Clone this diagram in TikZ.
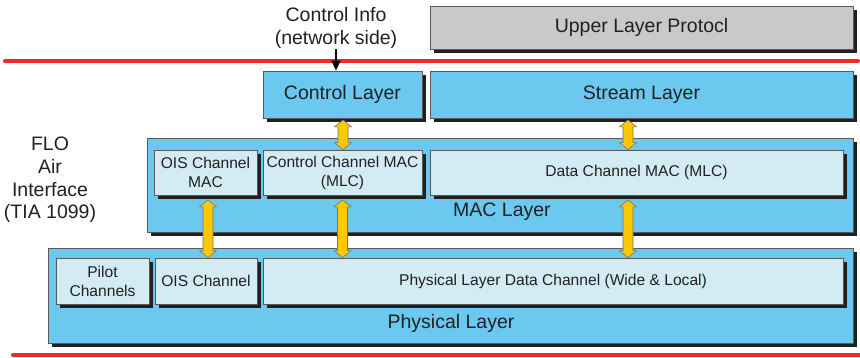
\documentclass[tikz,border=0pt]{standalone}
\usepackage{fontspec}
\setmainfont{Liberation Sans}
\usetikzlibrary{calc,arrows.meta}
\definecolor{skyb}{HTML}{6BC9F0}
\definecolor{paleb}{HTML}{D3ECF4}
\definecolor{greyb}{HTML}{C8C9CB}
\definecolor{redl}{HTML}{EE2A2E}
\definecolor{txt}{HTML}{231F20}
\definecolor{yel}{HTML}{FCC900}
\definecolor{shadowc}{HTML}{231F20}
\newcommand{\bigf}{\fontsize{19.5}{23.5}\selectfont}
\newcommand{\smallf}{\fontsize{15.6}{19}\selectfont}
\tikzset{
  boxbase/.style={draw=black!65, line width=0.8pt, inner sep=0pt, text=txt},
  bigbox/.style={boxbase, font=\bigf},
  smallbox/.style={boxbase, font=\smallf, align=center, fill=paleb},
  lbl/.style={text=txt, font=\bigf, align=center, inner sep=0pt},
  redline/.style={draw=redl, line width=4pt, line cap=round},
  yarr/.style={fill=yel, draw=black!55, line width=0.6pt, line join=miter},
  shad/.style={fill=shadowc},
}
% #1 name, #2 style, #3 cx, #4 cy, #5 w, #6 h, #7 text
\newcommand{\shbox}[7]{%
  \fill[shad] ({#3-#5/2+4},{#4-#6/2+4}) rectangle ({#3+#5/2+4},{#4+#6/2+4});
  \node[#2, minimum width=#5pt, minimum height=#6pt] (#1) at (#3,#4) {#7};}
\newcommand{\yarrow}[2]{%
  \path[yarr] let \p1=(#1), \p2=(#2) in
    (\x1,\y1) -- (\x1+8.5pt,\y1-7pt) -- (\x1+5pt,\y1-7pt) -- (\x1+5pt,\y2+7pt)
    -- (\x1+8.5pt,\y2+7pt) -- (\x1,\y2) -- (\x1-8.5pt,\y2+7pt) -- (\x1-5pt,\y2+7pt)
    -- (\x1-5pt,\y1-7pt) -- (\x1-8.5pt,\y1-7pt) -- cycle;}
\begin{document}
\begin{tikzpicture}[x=1pt,y=-1pt]
\useasboundingbox (0,0) rectangle (860,357);
% red lines
\coordinate (r1a) at (5,61); \coordinate (r1b) at (858,61);
\coordinate (r2a) at (13,355); \coordinate (r2b) at (862,355);
\draw[redline] (r1a) -- (r1b);
\draw[redline] (r2a) -- (r2b);
% upper
\shbox{upl}{bigbox, fill=greyb}{641.5}{27.5}{423}{43}{Upper Layer Protocl}
\node[lbl] (ci) at (336,28) {Control Info\\(network side)};
% control / stream
\shbox{ctl}{bigbox, fill=skyb}{342.5}{94.5}{159}{47}{Control Layer}
\shbox{str}{bigbox, fill=skyb}{641.5}{94.5}{423}{47}{Stream Layer}
% MAC
\shbox{mac}{bigbox, fill=skyb}{500}{185}{706}{94}{}
\shbox{oismac}{smallbox}{205.5}{172.5}{103}{45}{OIS Channel\\MAC}
\shbox{ccmac}{smallbox}{342.5}{172.5}{159}{45}{Control Channel MAC\\(MLC)}
\shbox{dcmac}{smallbox}{636.5}{172.5}{413}{45}{Data Channel MAC (MLC)}
\node[lbl] (macl) at (502,212) {MAC Layer};
% Physical
\shbox{phy}{bigbox, fill=skyb}{450.5}{295.5}{805}{95}{}
\shbox{pilot}{smallbox}{102.5}{281}{93}{46}{Pilot\\Channels}
\shbox{ois}{smallbox}{206}{281}{102}{46}{OIS Channel}
\shbox{pldc}{smallbox}{553}{281}{580}{46}{Physical Layer Data Channel (Wide \& Local)}
\node[lbl] (phyl) at (451,323) {Physical Layer};
% FLO
\node[lbl, font=\fontsize{19.5}{22.7}\selectfont] (flo) at (50,180) {FLO\\Air\\Interface\\(TIA 1099)};
% connectors
\draw[line width=1.5pt, -{Triangle[length=10pt,width=9pt]}] (ci.south) -- (ci.south |- ctl.north);
\coordinate (a0t) at ($(ctl.south)+(0.5,1.5)$);
\coordinate (a0b) at (a0t |- ccmac.north);
\coordinate (a1t) at ($(oismac.south)+(2.5,4.5)$);
\coordinate (a1b) at (a1t |- ois.north);
\coordinate (a2t) at ($(ccmac.south)+(0,4.5)$);
\coordinate (a2b) at (a2t |- pldc.north);
\coordinate (a3t) at ($(str.south)+(-13.5,1.5)$);
\coordinate (a3b) at (a3t |- dcmac.north);
\coordinate (a4t) at ($(dcmac.south)+(-8.5,4.5)$);
\coordinate (a4b) at (a4t |- pldc.north);
\yarrow{a0t}{a0b}
\yarrow{a1t}{a1b}
\yarrow{a2t}{a2b}
\yarrow{a3t}{a3b}
\yarrow{a4t}{a4b}
\end{tikzpicture}
\end{document}
